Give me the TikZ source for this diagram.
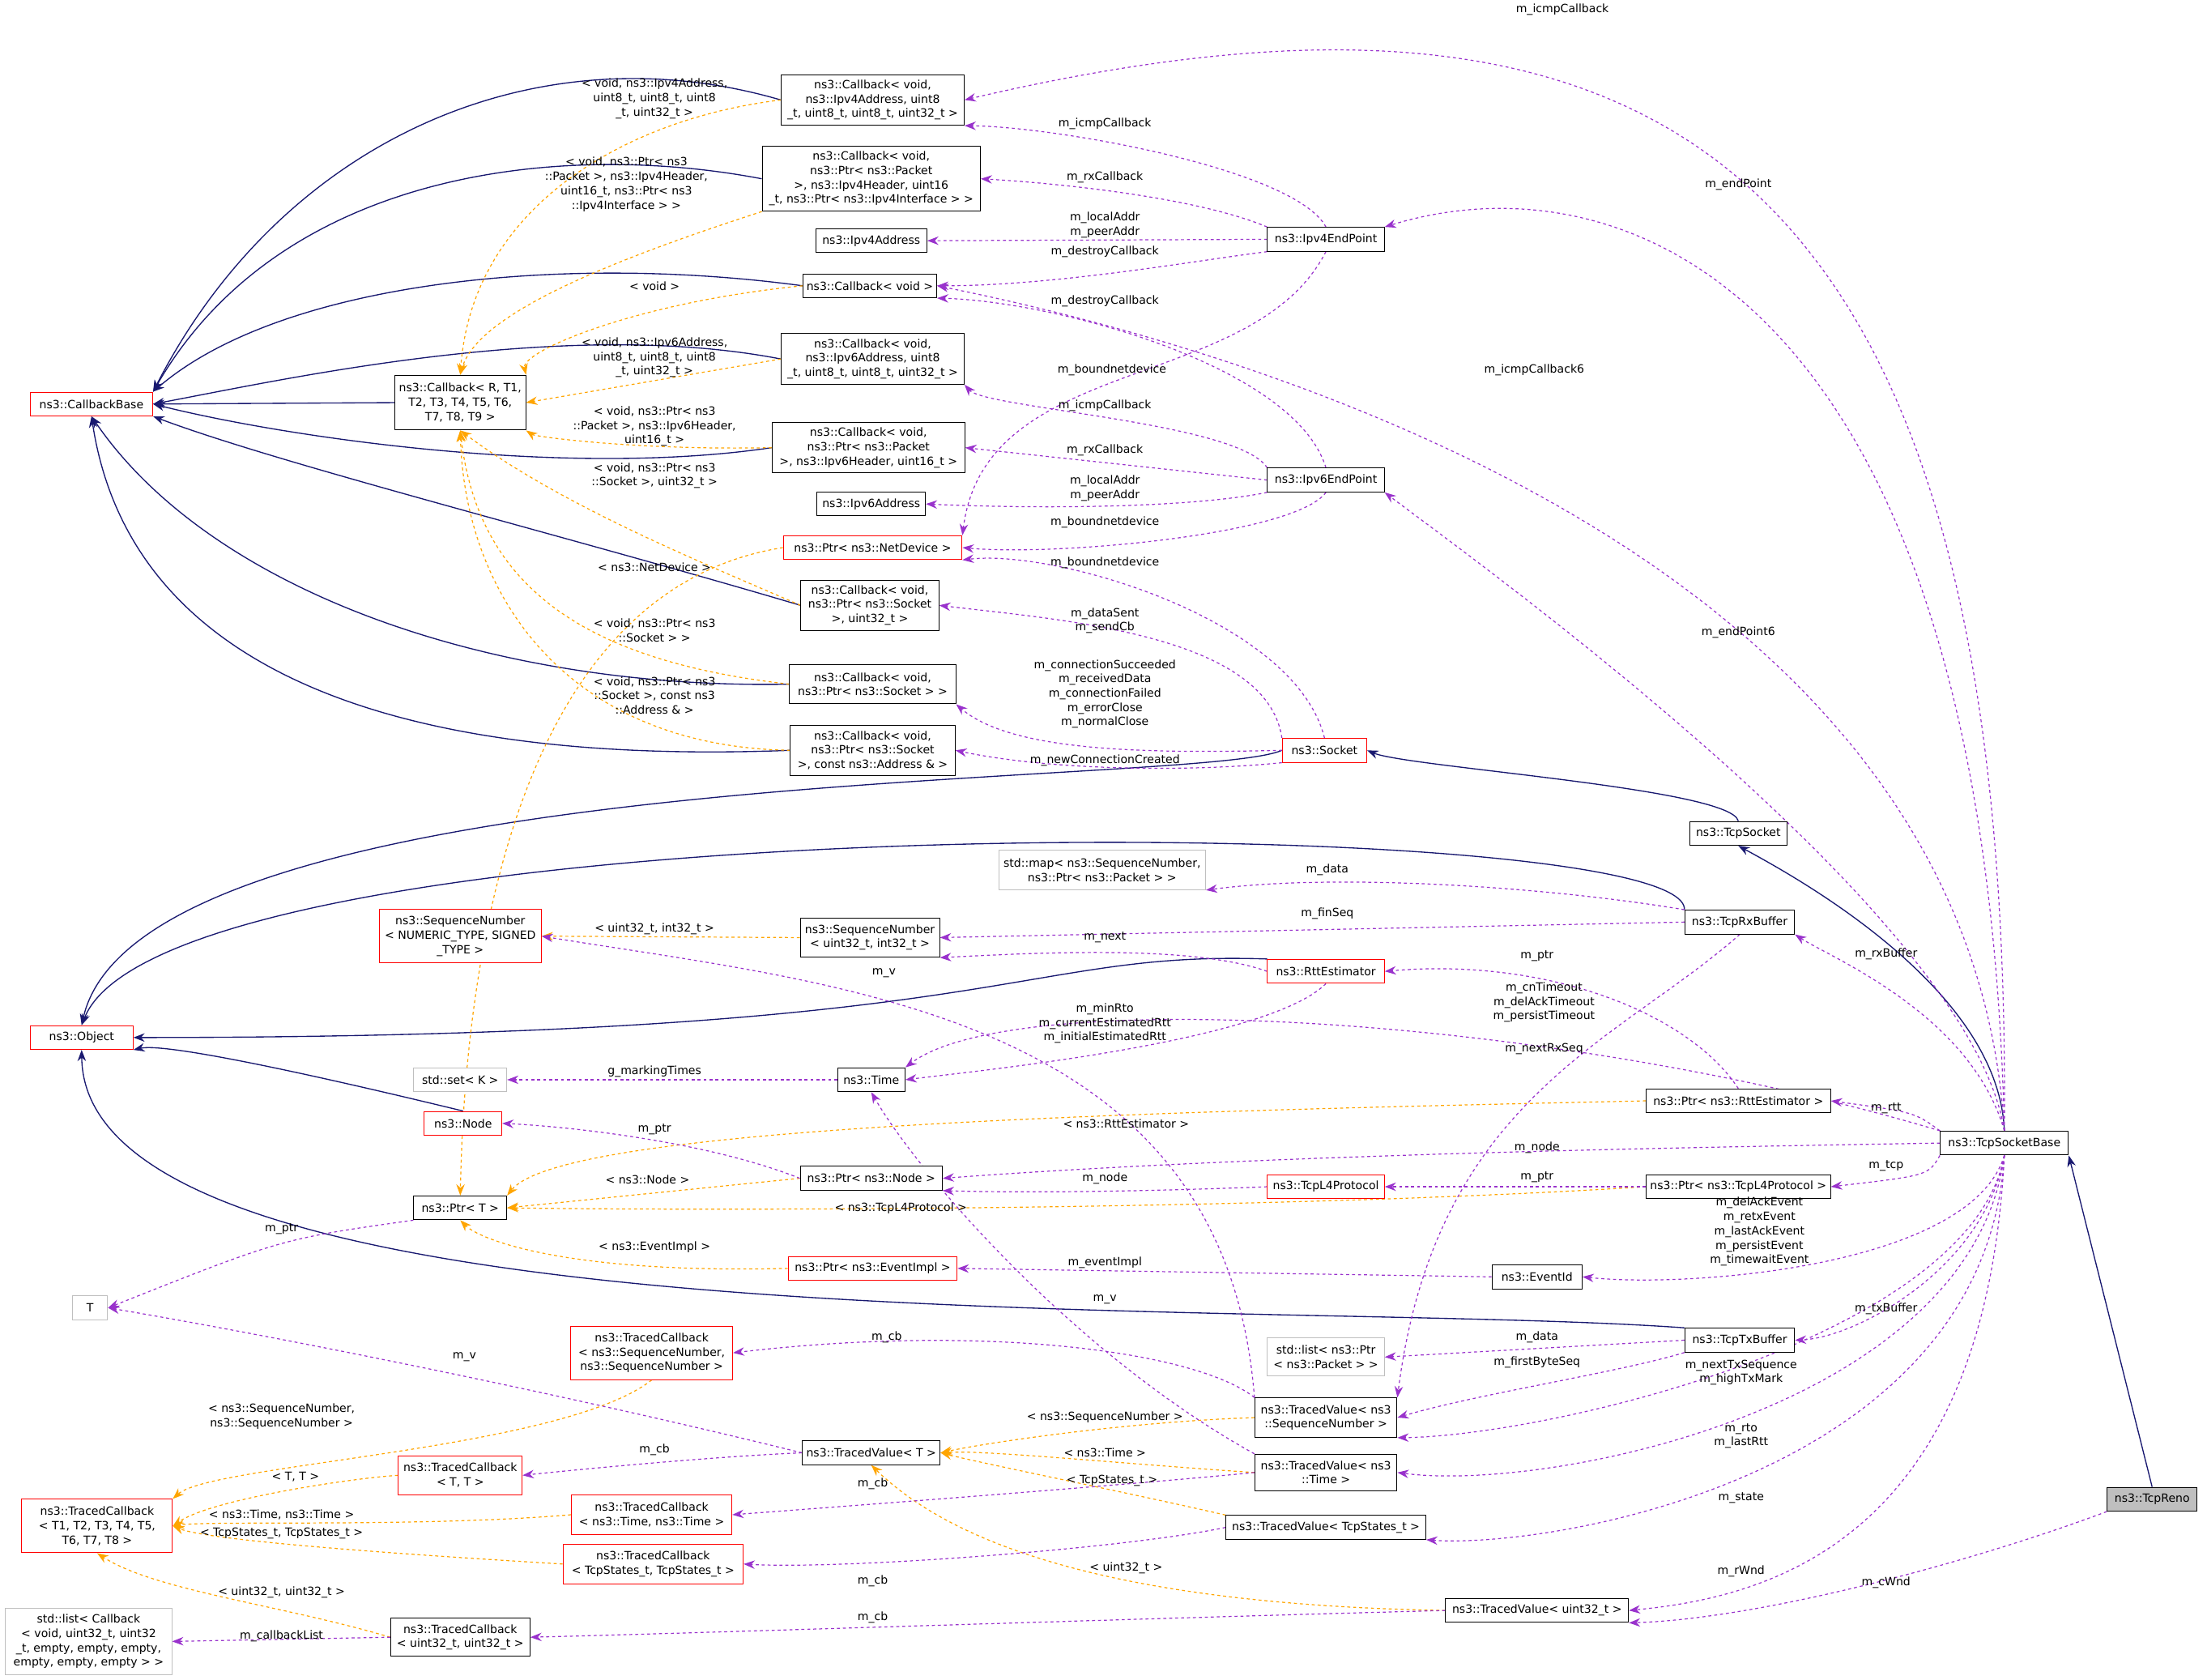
\documentclass[tikz,border=0pt]{standalone}
\usepackage{fontspec}
\setmainfont{DejaVu Sans}
\usetikzlibrary{arrows.meta}
\definecolor{navy}{RGB}{25,25,112}
\definecolor{purp}{RGB}{153,50,204}
\definecolor{orng}{RGB}{255,165,0}
\definecolor{gry}{RGB}{191,191,191}
\pgfdeclarelayer{bg}
\pgfsetlayers{bg,main}
\newcounter{lbc}
\newcommand\lb[3]{\stepcounter{lbc}\node[lbl] (lb\arabic{lbc}) at (#1,#2) {#3};}
\newcommand\bx[7]{\node[#6,minimum width=#4*0.05cm,minimum height=#5*0.05cm] (#1) at (#2,#3) {#7};}
\begin{document}
\begin{tikzpicture}[x=0.05cm,y=-0.05cm,
 font=\fontsize{11.5}{14.5}\selectfont,
 bb/.style={draw=black,line width=0.8pt,inner sep=1pt,align=center,fill=white},
 rb/.style={bb,draw=red},
 gb/.style={bb,draw=gry},
 lbl/.style={inner sep=0pt,align=center},
 inh/.style={navy,line width=1.1pt,-{Stealth[length=0.4cm,width=0.3cm]}},
 use/.style={purp,line width=1pt,dashed,-{Stealth[length=0.4cm,width=0.3cm]}},
 tpl/.style={orng,line width=1pt,dashed,-{Stealth[length=0.4cm,width=0.3cm]}}]
\useasboundingbox (0,0) rectangle (1568,1193);
% nodes
\bx{cbb}{65}{287}{87}{17}{rb}{ns3::CallbackBase}
\bx{cbA}{620}{71}{130}{36}{bb}{ns3::Callback< void,\\ ns3::Ipv4Address, uint8\\\_t, uint8\_t, uint8\_t, uint32\_t >}
\bx{cbRx4}{619}{127}{155}{46}{bb}{ns3::Callback< void,\\ ns3::Ptr< ns3::Packet\\ >, ns3::Ipv4Header, uint16\\\_t, ns3::Ptr< ns3::Ipv4Interface > >}
\bx{ipv4addr}{619}{171}{79}{17}{bb}{ns3::Ipv4Address}
\bx{cbVoid}{618}{203}{95}{17}{bb}{ns3::Callback< void >}
\bx{cbIcmp6}{620}{255}{130}{36}{bb}{ns3::Callback< void,\\ ns3::Ipv6Address, uint8\\\_t, uint8\_t, uint8\_t, uint32\_t >}
\bx{cbGen}{327}{286}{93}{39}{bb}{ns3::Callback< R, T1,\\ T2, T3, T4, T5, T6,\\ T7, T8, T9 >}
\bx{cbRx6}{617}{318}{137}{36}{bb}{ns3::Callback< void,\\ ns3::Ptr< ns3::Packet\\ >, ns3::Ipv6Header, uint16\_t >}
\bx{ipv6addr}{619}{358}{77}{17}{bb}{ns3::Ipv6Address}
\bx{pnd}{620}{389}{127}{17}{rb}{ns3::Ptr< ns3::NetDevice >}
\bx{cbSU}{618}{430}{98}{36}{bb}{ns3::Callback< void,\\ ns3::Ptr< ns3::Socket\\ >, uint32\_t >}
\bx{cbS}{620}{486}{118}{28}{bb}{ns3::Callback< void,\\ ns3::Ptr< ns3::Socket > >}
\bx{cbSA}{620}{533}{117}{36}{bb}{ns3::Callback< void,\\ ns3::Ptr< ns3::Socket\\ >, const ns3::Address \& >}
\bx{ip4}{942}{170}{83}{17}{bb}{ns3::Ipv4EndPoint}
\bx{ip6}{942}{341}{83}{17}{bb}{ns3::Ipv6EndPoint}
\bx{sock}{941}{533}{60}{17}{rb}{ns3::Socket}
\bx{tsock}{1235}{592}{69}{17}{bb}{ns3::TcpSocket}
\bx{obj}{58}{737}{73}{17}{rb}{ns3::Object}
\bx{seqTpl}{327}{665}{115}{38}{rb}{ns3::SequenceNumber\\< NUMERIC\_TYPE, SIGNED\\\_TYPE >}
\bx{stdmap}{783}{618}{147}{28}{gb}{std::map< ns3::SequenceNumber,\\ ns3::Ptr< ns3::Packet > >}
\bx{seq32}{618}{666}{99}{28}{bb}{ns3::SequenceNumber\\< uint32\_t, int32\_t >}
\bx{rtt}{942}{690}{83}{17}{rb}{ns3::RttEstimator}
\bx{rx}{1236}{655}{78}{17}{bb}{ns3::TcpRxBuffer}
\bx{stdset}{327}{767}{66}{17}{gb}{std::set< K >}
\bx{time}{619}{767}{48}{17}{bb}{ns3::Time}
\bx{node}{329}{798}{55}{17}{rb}{ns3::Node}
\bx{prtt}{1235}{782}{131}{17}{bb}{ns3::Ptr< ns3::RttEstimator >}
\bx{tsb}{1424}{812}{91}{17}{bb}{ns3::TcpSocketBase}
\bx{pnode}{619}{837}{101}{17}{bb}{ns3::Ptr< ns3::Node >}
\bx{ptrT}{327}{858}{66}{17}{bb}{ns3::Ptr< T >}
\bx{tl4}{942}{843}{83}{17}{rb}{ns3::TcpL4Protocol}
\bx{pl4}{1235}{843}{131}{17}{bb}{ns3::Ptr< ns3::TcpL4Protocol >}
\bx{pev}{620}{901}{120}{17}{rb}{ns3::Ptr< ns3::EventImpl >}
\bx{evid}{1092}{907}{64}{17}{bb}{ns3::EventId}
\bx{T}{64}{929}{25}{17}{gb}{T}
\bx{tcbseq}{463}{961}{115}{38}{rb}{ns3::TracedCallback\\< ns3::SequenceNumber,\\ ns3::SequenceNumber >}
\bx{tx}{1236}{952}{78}{17}{bb}{ns3::TcpTxBuffer}
\bx{stdlistpkt}{942}{964}{83}{27}{gb}{std::list< ns3::Ptr\\< ns3::Packet > >}
\bx{tvseq}{942}{1007}{101}{28}{bb}{ns3::TracedValue< ns3\\::SequenceNumber >}
\bx{tvT}{619}{1032}{98}{17}{bb}{ns3::TracedValue< T >}
\bx{tcbTT}{327}{1048}{88}{28}{rb}{ns3::TracedCallback\\< T, T >}
\bx{tvtime}{942}{1046}{101}{26}{bb}{ns3::TracedValue< ns3\\::Time >}
\bx{tcbgen}{69}{1084}{107}{38}{rb}{ns3::TracedCallback\\< T1, T2, T3, T4, T5,\\ T6, T7, T8 >}
\bx{tcbtime}{463}{1076}{114}{28}{rb}{ns3::TracedCallback\\< ns3::Time, ns3::Time >}
\bx{tvstate}{942}{1085}{142}{17}{bb}{ns3::TracedValue< TcpStates\_t >}
\bx{tcbstate}{464}{1111}{128}{28}{rb}{ns3::TracedCallback\\< TcpStates\_t, TcpStates\_t >}
\bx{tvuint}{1092}{1144}{130}{17}{bb}{ns3::TracedValue< uint32\_t >}
\node[bb,fill=gry,minimum width=64*0.05cm,minimum height=17*0.05cm] (reno) at (1529,1065) {ns3::TcpReno};
\bx{stdlist}{63}{1166}{118}{47}{gb}{std::list< Callback\\< void, uint32\_t, uint32\\\_t, empty, empty, empty,\\ empty, empty, empty > >}
\bx{tcbuint}{327}{1163}{99}{27}{bb}{ns3::TracedCallback\\< uint32\_t, uint32\_t >}
\begin{pgfonlayer}{bg}
% inheritance
\draw[inh] (cbA.west) .. controls (380,20) and (200,100) .. (cbb.north east);
\draw[inh] (cbRx4.west) .. controls (400,100) and (200,120) .. (cbb.north east);
\draw[inh] (cbVoid.west) .. controls (400,180) and (200,200) .. (cbb.north east);
\draw[inh] (cbIcmp6.west) .. controls (400,225) and (200,270) .. (cbb.east);
\draw[inh] (cbGen.west) -- (cbb.east);
\draw[inh] (cbRx6.west) .. controls (400,340) and (200,310) .. (cbb.east);
\draw[inh] (cbSU.west) .. controls (400,380) and (200,330) .. (cbb.south east);
\draw[inh] (cbS.west) .. controls (350,490) and (150,420) .. (cbb.south);
\draw[inh] (cbSA.west) .. controls (250,545) and (90,460) .. (cbb.south);
\draw[inh] (sock.west) .. controls (850,560) and (100,540) .. (obj.north);
\draw[inh] (rx.north west) .. controls (1200,575) and (120,570) .. (obj.north);
\draw[inh] (rtt.north west) .. controls (720,675) and (720,737) .. (obj.east);
\draw[inh] (node.north) .. controls (250,770) and (120,740) .. (obj.south east);
\draw[inh] (tx.north west) .. controls (900,922) and (60,960) .. (obj.south);
\draw[inh] (tsock.north) .. controls (1230,560) and (1000,545) .. (sock.east);
\draw[inh] (tsb.north) .. controls (1420,700) and (1270,620) .. (tsock.south);
\draw[inh] (reno.north) -- (tsb.south east);
% templates
\draw[tpl] (cbA.west) .. controls (440,85) and (335,150) .. (cbGen.north);
\draw[tpl] (cbRx4.south west) .. controls (450,180) and (340,220) .. (cbGen.north);
\draw[tpl] (cbVoid.west) .. controls (450,215) and (370,250) .. (cbGen.north east);
\draw[tpl] (cbIcmp6.west) -- (cbGen.east);
\draw[tpl] (cbRx6.west) .. controls (450,320) and (380,310) .. (cbGen.south east);
\draw[tpl] (cbSU.west) .. controls (500,400) and (400,360) .. (cbGen.south);
\draw[tpl] (cbS.west) .. controls (420,470) and (340,420) .. (cbGen.south);
\draw[tpl] (cbSA.west) .. controls (400,530) and (330,420) .. (cbGen.south);
\draw[tpl] (pnd.west) .. controls (360,420) and (330,700) .. (ptrT.north);
\draw[tpl] (seq32.west) -- (seqTpl.east);
\draw[tpl] (prtt.west) .. controls (800,790) and (400,800) .. (ptrT.north east);
\draw[tpl] (pnode.west) -- (ptrT.east);
\draw[tpl] (pl4.west) .. controls (900,860) and (500,860) .. (ptrT.east);
\draw[tpl] (pev.west) .. controls (400,905) and (340,880) .. (ptrT.south);
\draw[tpl] (tcbseq.south) .. controls (400,1030) and (150,1040) .. (tcbgen.north east);
\draw[tpl] (tcbTT.west) .. controls (250,1050) and (150,1065) .. (tcbgen.east);
\draw[tpl] (tcbtime.west) .. controls (300,1085) and (150,1080) .. (tcbgen.east);
\draw[tpl] (tcbstate.west) .. controls (300,1105) and (150,1095) .. (tcbgen.east);
\draw[tpl] (tcbuint.west) .. controls (200,1140) and (110,1130) .. (tcbgen.south);
\draw[tpl] (tvseq.west) .. controls (800,1010) and (700,1025) .. (tvT.east);
\draw[tpl] (tvtime.west) .. controls (800,1040) and (700,1030) .. (tvT.east);
\draw[tpl] (tvstate.north west) .. controls (800,1060) and (700,1040) .. (tvT.east);
\draw[tpl] (tvuint.west) .. controls (800,1140) and (680,1100) .. (tvT.south);
% usage
\draw[use] (tsb.north) .. controls (1430,110) and (1180,-45) .. (cbA.east);
\draw[use] (ip4.north) .. controls (920,120) and (750,90) .. (cbA.south east);
\draw[use] (ip4.north west) .. controls (850,140) and (750,130) .. (cbRx4.east);
\draw[use] (ip4.west) -- (ipv4addr.east);
\draw[use] (ip4.south west) .. controls (850,185) and (750,203) .. (cbVoid.east);
\draw[use] (ip4.south) .. controls (890,280) and (700,250) .. (pnd.north east);
\draw[use] (tsb.north) .. controls (1410,200) and (1150,110) .. (ip4.north east);
\draw[use] (tsb.north) .. controls (1400,400) and (900,250) .. (cbVoid.east);
\draw[use] (ip6.north) .. controls (920,260) and (750,214) .. (cbVoid.south east);
\draw[use] (ip6.north west) .. controls (880,300) and (700,290) .. (cbIcmp6.south east);
\draw[use] (ip6.west) -- (cbRx6.east);
\draw[use] (ip6.south west) .. controls (850,360) and (750,362) .. (ipv6addr.east);
\draw[use] (ip6.south) .. controls (920,380) and (750,395) .. (pnd.east);
\draw[use] (tsb.north) .. controls (1400,650) and (1050,400) .. (ip6.south east);
\draw[use] (sock.north) .. controls (920,440) and (750,390) .. (pnd.south east);
\draw[use] (sock.north west) .. controls (900,450) and (750,440) .. (cbSU.east);
\draw[use] (sock.west) .. controls (820,535) and (720,535) .. (cbS.south east);
\draw[use] (sock.south west) .. controls (850,548) and (750,548) .. (cbSA.east);
\draw[use] (rx.north west) .. controls (1100,630) and (950,620) .. (stdmap.south east);
\draw[use] (rx.west) -- (seq32.east);
\draw[use] (rx.south) .. controls (1150,740) and (1020,780) .. (tvseq.north east);
\draw[use] (rtt.west) .. controls (850,672) and (750,676) .. (seq32.south east);
\draw[use] (rtt.south) .. controls (900,740) and (700,760) .. (time.east);
\draw[use] (tvseq.north west) .. controls (870,720) and (600,700) .. (seqTpl.east);
\draw[use] (tsb.north west) .. controls (1100,720) and (720,700) .. (time.north east);
\draw[use] (prtt.north) .. controls (1200,720) and (1100,680) .. (rtt.east);
\draw[use] (time.west) -- (stdset.east);
\draw[use] (pnode.west) .. controls (500,810) and (400,800) .. (node.east);
\draw[use] (tsb.north west) .. controls (1360,790) .. (prtt.east);
\draw[use] (tsb.west) .. controls (1200,815) and (900,820) .. (pnode.east);
\draw[use] (tl4.west) .. controls (850,845) and (750,848) .. (pnode.south east);
\draw[use] (pl4.west) -- (tl4.east);
\draw[use] (tsb.south west) .. controls (1370,835) .. (pl4.east);
\draw[use] (tsb.south) .. controls (1400,900) and (1200,915) .. (evid.east);
\draw[use] (evid.west) -- (pev.east);
\draw[use] (ptrT.south west) .. controls (200,880) .. (T.east);
\draw[use] (tvT.west) .. controls (400,990) and (200,950) .. (T.east);
\draw[use] (tvseq.north west) .. controls (850,960) and (700,940) .. (tcbseq.east);
\draw[use] (tvT.west) .. controls (500,1035) and (400,1045) .. (tcbTT.east);
\draw[use] (tvtime.west) .. controls (800,1055) and (600,1070) .. (tcbtime.east);
\draw[use] (tvstate.west) .. controls (800,1100) and (600,1115) .. (tcbstate.east);
\draw[use] (tvuint.west) .. controls (800,1150) and (500,1160) .. (tcbuint.east);
\draw[use] (tcbuint.west) -- (stdlist.east);
\draw[use] (tvtime.north west) .. controls (760,960) and (650,830) .. (time.south);
\draw[use] (tx.west) -- (stdlistpkt.east);
\draw[use] (tx.south west) .. controls (1150,975) and (1050,990) .. (tvseq.east);
\draw[use] (tsb.north) .. controls (1400,720) and (1300,680) .. (rx.south east);
\draw[use] (tsb.south) .. controls (1410,900) and (1320,950) .. (tx.east);
\draw[use] (tsb.south) .. controls (1400,950) and (1100,1020) .. (tvseq.south east);
\draw[use] (tsb.south) .. controls (1400,1000) and (1100,1060) .. (tvtime.east);
\draw[use] (tsb.south) .. controls (1410,1050) and (1100,1100) .. (tvstate.south east);
\draw[use] (tsb.south) .. controls (1410,1100) and (1250,1135) .. (tvuint.east);
\draw[use] (reno.south west) .. controls (1400,1110) and (1250,1150) .. (tvuint.south east);
\end{pgfonlayer}
% labels
\lb{465}{70}{< void, ns3::Ipv4Address,\\uint8\_t, uint8\_t, uint8\\\_t, uint32\_t >}
\lb{445}{131}{< void, ns3::Ptr< ns3\\::Packet >, ns3::Ipv4Header,\\uint16\_t, ns3::Ptr< ns3\\::Ipv4Interface > >}
\lb{465}{203}{< void >}
\lb{465}{254}{< void, ns3::Ipv6Address,\\uint8\_t, uint8\_t, uint8\\\_t, uint32\_t >}
\lb{465}{303}{< void, ns3::Ptr< ns3\\::Packet >, ns3::Ipv6Header,\\uint16\_t >}
\lb{465}{338}{< void, ns3::Ptr< ns3\\::Socket >, uint32\_t >}
\lb{465}{448}{< void, ns3::Ptr< ns3\\::Socket > >}
\lb{465}{494}{< void, ns3::Ptr< ns3\\::Socket >, const ns3\\::Address \& >}
\lb{465}{403}{< ns3::NetDevice >}
\lb{465}{660}{< uint32\_t, int32\_t >}
\lb{800}{798}{< ns3::RttEstimator >}
\lb{460}{838}{< ns3::Node >}
\lb{640}{858}{< ns3::TcpL4Protocol >}
\lb{465}{886}{< ns3::EventImpl >}
\lb{200}{1006}{< ns3::SequenceNumber,\\ns3::SequenceNumber >}
\lb{210}{1049}{< T, T >}
\lb{200}{1076}{< ns3::Time, ns3::Time >}
\lb{200}{1089}{< TcpStates\_t, TcpStates\_t >}
\lb{200}{1131}{< uint32\_t, uint32\_t >}
\lb{785}{1007}{< ns3::SequenceNumber >}
\lb{785}{1032}{< ns3::Time >}
\lb{790}{1052}{< TcpStates\_t >}
\lb{800}{1114}{< uint32\_t >}
\lb{1110}{7}{m\_icmpCallback}
\lb{785}{88}{m\_icmpCallback}
\lb{785}{126}{m\_rxCallback}
\lb{785}{160}{m\_localAddr\\m\_peerAddr}
\lb{785}{179}{m\_destroyCallback}
\lb{790}{263}{m\_boundnetdevice}
\lb{1235}{131}{m\_endPoint}
\lb{1090}{263}{m\_icmpCallback6}
\lb{785}{214}{m\_destroyCallback}
\lb{785}{288}{m\_icmpCallback}
\lb{785}{320}{m\_rxCallback}
\lb{785}{347}{m\_localAddr\\m\_peerAddr}
\lb{785}{371}{m\_boundnetdevice}
\lb{1235}{449}{m\_endPoint6}
\lb{785}{400}{m\_boundnetdevice}
\lb{785}{441}{m\_dataSent\\m\_sendCb}
\lb{785}{493}{m\_connectionSucceeded\\m\_receivedData\\m\_connectionFailed\\m\_errorClose\\m\_normalClose}
\lb{785}{540}{m\_newConnectionCreated}
\lb{943}{618}{m\_data}
\lb{943}{649}{m\_finSeq}
\lb{1097}{745}{m\_nextRxSeq}
\lb{785}{666}{m\_next}
\lb{785}{727}{m\_minRto\\m\_currentEstimatedRtt\\m\_initialEstimatedRtt}
\lb{628}{691}{m\_v}
\lb{1097}{712}{m\_cnTimeout\\m\_delAckTimeout\\m\_persistTimeout}
\lb{1092}{679}{m\_ptr}
\lb{465}{761}{g\_markingTimes}
\lb{465}{802}{m\_ptr}
\lb{1340}{787}{m\_rtt}
\lb{1092}{815}{m\_node}
\lb{785}{837}{m\_node}
\lb{1092}{836}{m\_ptr}
\lb{1340}{828}{m\_tcp}
\lb{1250}{875}{m\_delAckEvent\\m\_retxEvent\\m\_lastAckEvent\\m\_persistEvent\\m\_timewaitEvent}
\lb{785}{897}{m\_eventImpl}
\lb{200}{873}{m\_ptr}
\lb{330}{964}{m\_v}
\lb{630}{950}{m\_cb}
\lb{465}{1030}{m\_cb}
\lb{620}{1054}{m\_cb}
\lb{620}{1123}{m\_cb}
\lb{620}{1149}{m\_cb}
\lb{200}{1162}{m\_callbackList}
\lb{785}{923}{m\_v}
\lb{1092}{950}{m\_data}
\lb{1092}{968}{m\_firstByteSeq}
\lb{1340}{930}{m\_txBuffer}
\lb{1340}{678}{m\_rxBuffer}
\lb{1237}{975}{m\_nextTxSequence\\m\_highTxMark}
\lb{1237}{1020}{m\_rto\\m\_lastRtt}
\lb{1237}{1064}{m\_state}
\lb{1237}{1116}{m\_rWnd}
\lb{1340}{1124}{m\_cWnd}
\end{tikzpicture}
\end{document}
